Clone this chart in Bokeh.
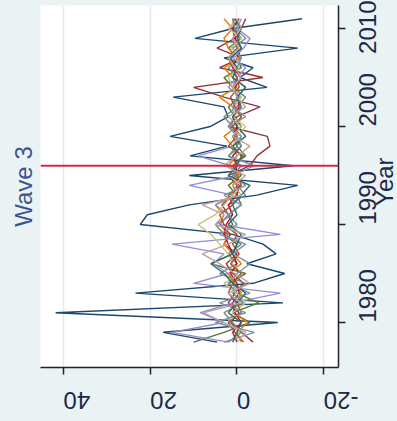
from math import pi
from bokeh.plotting import figure
from bokeh.models import Range1d, FixedTicker, Span, LinearAxis
from bokeh.embed import file_html
from bokeh.resources import INLINE

years = list(range(1978, 2012))
tick_years = [1980, 1990, 2000, 2010]
tick_values = [-20, 0, 20, 40]
wave3_year = 1996
title_text = "Wave 3"
axis_title = "Year"
title_pos = 1991.9

navy = [4.6, 17, -9.4, 41.8, -10.6, 23.4, -3.7, -11, -2.3, -9, -6, 1, 22.3, 20.7, 11, -4.6, -14, 11, -13, 10.8, 2.3, 15.4, 6.2, 2, 3, 14.7, -6.9, -0.7, -3.7, 3, -14, 9.7, 1, -15]
maroon = [-3.7, -1, 1.5, -0.5, 2, 0.5, -1.5, 1, 2.5, 0, 3, 1.5, 4, 2, 3.5, 1, 0, 2, -3, -4.6, -7.6, -7, 2, 0, -5.3, 3, 10, -6, 4, -1, 4.6, 0.5, -1, -2]
forest_green = [10, 3, -3, 1, -5, 0, 2, -2, 6, 1, 0, 3, 1, 2, -1, 0, 2, -1, 1, -2, 0, 1, -1, 0.5, 2, -0.5, 1, 3, -1, 0, 2, -1, 1, 0.5]
dkorange = [-1, 0, -2.5, 1, 0, -1, 0.5, 2, -1, 1, 3, 2, 4, 3, 5, 0, 1, -0.5, 2, 0, 1, 3, 0, -1, 1, 4, 0, 1, 3, -1, 2, 3, 1, 3]
teal = [2, -1, 1, 3, -1.5, 1, -2, 4, 0, 2, -1, 3, 5, 1, 2, -2, 0, 1, -1, 2, 0, -1, 1, 3, 0, -2, 1, 0, 2, -1, 0, 1, -0.5, 1]
cranberry = [0, 1, -1, 0.5, 1, -0.5, 0, 1.5, 0, 1, 2, 3, 2.5, 1, 2, 0, -0.5, 0.5, 0, 1, -1, 0.5, 0, 1, -0.5, 0, 0.5, -1, 1, 0, -1, 0.5, 1, -0.5]
lavender = [2, 15, 3, 8.5, 1, -10, 10, 2, 5.5, 3, 15, -10, 4, 2, 5, 1, 11, 0, 1.5, 9, 1, -1, 2, 0.5, 1, -1, 2, 0, -2, 1, -1.5, -3, 0, -1]
khaki = [1, -0.5, 2, 1, -2, 0, 3, -1, 1, 2, 4, 6, 9, 5, 3, 1, -1, 2, 0, -1, 1, 0, -2, 1, 0.5, -1, 1, 2, -0.5, 0, 1.5, -1, 2, 0]
sienna = [-1.5, 0.5, 2, -1, 0, 2, 1, -1, 1.5, -0.5, 1, 0, 3, 4, 1, 2, -1, 0, 1, -1.5, 2, 0, 1, -1, 0.5, 1.5, -0.5, 0, 1, 2, 0, -0.5, 0.5, 1]
emidblue = [3, -4, 5, -2, 4, -3, 2, 0, -3, 1, -2, 4, 0, 2, -1, 3, -2, 1, -4, 2, -1, 0, 2, -2, 1, 0, -2, 1, 0, -1, 1, -2, 0.5, 1]
emerald = [1, 0, -1, 2, 0, -2, 1, 3, 6, 1, 0, -1, 2, 0, 1, -1, -3, 2, 0, -1, 1, -2, 0, 1, -1, 0, -2, 1, 0, 1.5, -1, 0, -1, 0.5]
erose = [0, -2, 3, 7.8, -1, 2, -3, 0.5, 4, 8, 2, -2, 5, 3, 8, -1, 1, -2, 3, 0, -3, 1, -1, 2, -2, 0, 1, -1, 0.5, 2, -0.5, 1, -1, 0]

series = [navy, maroon, forest_green, dkorange, teal, cranberry, lavender,
          khaki, sienna, emidblue, emerald, erose]
colors = ["#1a476f", "#90353b", "#55752f", "#e37e00", "#6e8e84", "#c10534",
          "#938dd2", "#cac27e", "#a0522d", "#7b92a8", "#2d6d66", "#bfa19c"]

bg = "#eaf2f3"
p = figure(frame_width=298, frame_height=362, output_backend="svg", toolbar_location=None,
           x_range=Range1d(45.3, -23.4), y_range=Range1d(1975.41, 2012.35),
           y_axis_location="right",
           min_border_left=40, min_border_right=59, min_border_top=5, min_border_bottom=54)
p.background_fill_color = "white"
p.border_fill_color = bg
p.outline_line_color = None

for vals, c in zip(series, colors):
    p.line(x=vals, y=years, line_color=c, line_width=1.4)

p.add_layout(Span(location=wave3_year, dimension="width", line_color="#d02a4e", line_width=2))

font = "Liberation Sans"
fs = "24px"
xa = p.xaxis[0]
xa.ticker = FixedTicker(ticks=tick_values)
xa.major_label_orientation = pi
xa.major_label_overrides = {-20: "-20"}
xa.major_label_standoff = 26
ya = p.yaxis[0]
ya.ticker = FixedTicker(ticks=tick_years)
ya.major_label_orientation = pi / 2
ya.major_label_standoff = 22
for ax in (xa, ya):
    ax.minor_tick_line_color = None
    ax.major_tick_in = 0
    ax.major_tick_out = 7
    ax.major_tick_line_width = 1.5
    ax.major_tick_line_color = "#222222"
    ax.axis_line_width = 1.5
    ax.axis_line_color = "#222222"
    ax.major_label_text_font = font
    ax.major_label_text_font_size = fs
    ax.major_label_text_color = "#1b2a4a"

# invisible outer right axis whose single label is the "Year" title
ta = LinearAxis(ticker=FixedTicker(ticks=[title_pos]),
                major_label_overrides={title_pos: axis_title},
                major_label_orientation=pi / 2, major_label_standoff=-3,
                axis_line_color=None, major_tick_line_color=None,
                major_tick_in=0, major_tick_out=0, minor_tick_line_color=None,
                major_label_text_font=font, major_label_text_font_size=fs,
                major_label_text_color="#1b2a4a")
p.add_layout(ta, "right")

la = LinearAxis(ticker=FixedTicker(ticks=[]), axis_line_color=None,
                major_tick_line_color=None, minor_tick_line_color=None,
                major_label_text_font_size="0px",
                axis_label=title_text, axis_label_standoff=4,
                axis_label_text_font=font, axis_label_text_font_size=fs,
                axis_label_text_font_style="normal", axis_label_text_color="#3a5592")
p.add_layout(la, "left")

p.xgrid.ticker = FixedTicker(ticks=tick_values)
p.xgrid.grid_line_color = "#e2ebef"
p.xgrid.grid_line_width = 1.5
p.ygrid.visible = False

html = file_html(p, INLINE)
html = html.replace("</head>", "<style>html,body{background:#eaf2f3;overflow:hidden;}</style></head>", 1)
open("out.html", "w").write(html)
